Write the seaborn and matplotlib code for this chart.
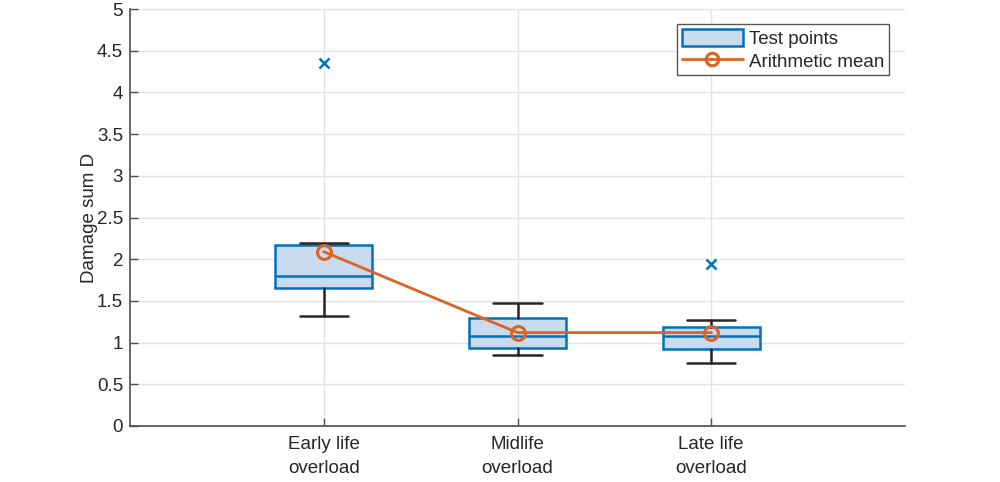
import numpy as np
import pandas as pd
import matplotlib
matplotlib.use("Agg")
import matplotlib.pyplot as plt
from matplotlib.patches import Patch
from matplotlib.lines import Line2D
import seaborn as sns

# ---- data ----
categories = ["Early life\noverload", "Midlife\noverload", "Late life\noverload"]
whisker_low = [1.32, 0.855, 0.75]
q1 = [1.66, 0.94, 0.92]
median = [1.80, 1.08, 1.08]
q3 = [2.17, 1.29, 1.19]
whisker_high = [2.19, 1.48, 1.275]
outliers = [[4.35], [], [1.94]]
means = [2.09, 1.12, 1.12]
y_ticks = [0, 0.5, 1, 1.5, 2, 2.5, 3, 3.5, 4, 4.5, 5]
y_label = "Damage sum D"
legend_labels = ["Test points", "Arithmetic mean"]

sns.set_style("whitegrid")
plt.rcParams["font.family"] = ["Liberation Sans", "DejaVu Sans"]

blue = "#0072BD"
box_face = "#c8dbef"
orange = "#DB6424"
whisk = "#262626"
fs = 13.5

fig = plt.figure(figsize=(10, 4.82), dpi=100)
ax = fig.add_axes([0.13, 0.1162, 0.775, 0.8651])

pos = np.arange(1, len(categories) + 1)
stats = []
for i in range(len(categories)):
    stats.append(dict(med=median[i], q1=q1[i], q3=q3[i],
                      whislo=whisker_low[i], whishi=whisker_high[i],
                      fliers=outliers[i]))
ax.bxp(stats, positions=pos, widths=0.5, patch_artist=True, showfliers=True,
       boxprops=dict(facecolor=box_face, edgecolor=blue, linewidth=1.8),
       medianprops=dict(color=blue, linewidth=1.8),
       whiskerprops=dict(color=whisk, linewidth=1.8),
       capprops=dict(color=whisk, linewidth=1.8),
       capwidths=0.25,
       flierprops=dict(marker="x", markeredgecolor=blue, markersize=7,
                       markeredgewidth=1.8, linestyle="none"),
       zorder=2)

df = pd.DataFrame({"x": pos, "mean": means})
sns.lineplot(data=df, x="x", y="mean", ax=ax, color=orange, linewidth=2.0,
             marker="o", markersize=10, markerfacecolor="none",
             markeredgecolor=orange, markeredgewidth=2.2, zorder=3)

ax.set_xlim(0, 4)
ax.set_ylim(0, 5)
ax.set_yticks(y_ticks)
ax.set_yticklabels([f"{t:g}" for t in y_ticks])
ax.set_xticks(pos)
ax.set_xticklabels(categories, linespacing=1.55)
ax.set_xlabel("")
ax.set_ylabel(y_label, fontsize=fs, color="#262626", labelpad=-1)

ax.grid(True, color="#e3e3e3", linewidth=1.0)
ax.set_axisbelow(True)
for s in ["top", "right"]:
    ax.spines[s].set_visible(False)
for s in ["left", "bottom"]:
    ax.spines[s].set_visible(True)
    ax.spines[s].set_color("#4d4d4d")
    ax.spines[s].set_linewidth(1.2)
ax.tick_params(axis="both", direction="in", length=6, width=1.0,
               color="#4d4d4d", labelsize=fs, labelcolor="#262626",
               left=True, bottom=True)
ax.tick_params(axis="x", pad=7)
ax.tick_params(axis="y", pad=5)

handles = [Patch(facecolor=box_face, edgecolor=blue, linewidth=1.8),
           Line2D([0], [0], color=orange, linewidth=2.0, marker="o",
                  markersize=9, markerfacecolor="none",
                  markeredgecolor=orange, markeredgewidth=2.2)]
leg = ax.legend(handles, legend_labels, loc="upper right",
                bbox_to_anchor=(0.9795, 0.963), fontsize=fs,
                frameon=True, fancybox=False, framealpha=1,
                edgecolor="#555555", borderpad=0.25, labelspacing=0.2,
                handlelength=3.3, handleheight=1.0, handletextpad=0.3,
                borderaxespad=0)
leg.get_frame().set_linewidth(1.0)

fig.savefig("out.png", dpi=100)
